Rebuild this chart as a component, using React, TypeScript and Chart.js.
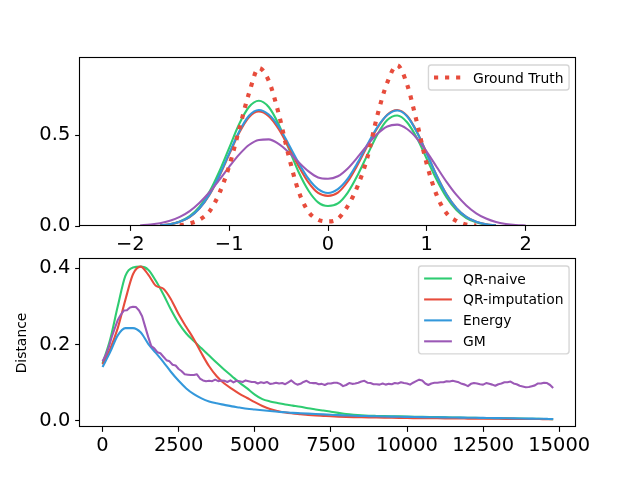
import React, { useEffect, useRef } from "react";
import { Chart, registerables } from "chart.js";

Chart.register(...registerables);

// ---------------- data: top panel (densities) ----------------
const DENSITY_X = [
  -2.0, -1.9, -1.8, -1.7, -1.6, -1.5, -1.4, -1.3, -1.2, -1.1,
  -1.0, -0.9, -0.8, -0.7, -0.6, -0.5, -0.4, -0.3, -0.2, -0.1,
  0.0, 0.1, 0.2, 0.3, 0.4, 0.5, 0.6, 0.7, 0.8, 0.9,
  1.0, 1.1, 1.2, 1.3, 1.4, 1.5, 1.6, 1.7, 1.8, 1.9, 2.0,
];

const GROUND_TRUTH_DENSITY = [
  null, null, null, null, null, 0.003, 0.014, 0.035, 0.08, 0.18,
  0.33, 0.53, 0.73, 0.87, 0.8, 0.62, 0.39, 0.195, 0.08, 0.035,
  0.025, 0.04, 0.11, 0.22, 0.38, 0.61, 0.79, 0.885, 0.78, 0.57,
  0.34, 0.17, 0.07, 0.028, 0.008, 0.002, null, null, null, null, null,
];

const QR_NAIVE_DENSITY = [
  null, null, null, 0.004, 0.01, 0.025, 0.054, 0.106, 0.188, 0.3,
  0.43, 0.56, 0.655, 0.69, 0.655, 0.56, 0.43, 0.3, 0.197, 0.13,
  0.11, 0.124, 0.184, 0.28, 0.393, 0.504, 0.583, 0.608, 0.571, 0.484,
  0.369, 0.254, 0.157, 0.088, 0.044, 0.02, 0.008, 0.003, null, null, null,
];

const QR_IMPUTATION_DENSITY = [
  null, null, null, 0.0035, 0.009, 0.023, 0.049, 0.097, 0.171, 0.274,
  0.394, 0.512, 0.599, 0.63, 0.604, 0.534, 0.436, 0.332, 0.242, 0.182,
  0.166, 0.184, 0.245, 0.337, 0.442, 0.54, 0.613, 0.639, 0.607, 0.519,
  0.4, 0.278, 0.174, 0.098, 0.05, 0.023, 0.0095, 0.0035, null, null, null,
];

const ENERGY_DENSITY = [
  null, null, null, 0.0035, 0.0095, 0.023, 0.05, 0.098, 0.174, 0.278,
  0.4, 0.519, 0.607, 0.639, 0.614, 0.548, 0.452, 0.351, 0.262, 0.203,
  0.182, 0.203, 0.261, 0.349, 0.45, 0.545, 0.611, 0.636, 0.604, 0.516,
  0.398, 0.277, 0.173, 0.098, 0.05, 0.023, 0.0094, 0.0035, null, null, null,
];

const GM_DENSITY = [
  null, 0.004, 0.008, 0.015, 0.0285, 0.05, 0.082, 0.128, 0.186, 0.254,
  0.326, 0.393, 0.446, 0.474, 0.477, 0.452, 0.407, 0.353, 0.302, 0.267,
  0.26, 0.274, 0.317, 0.379, 0.447, 0.508, 0.548, 0.558, 0.534, 0.482,
  0.408, 0.325, 0.243, 0.171, 0.113, 0.07, 0.041, 0.022, 0.0115, 0.0055, 0.0025,
];

const DENSITY_X_TICKS = [-2, -1, 0, 1, 2];
const DENSITY_Y_TICKS = [0, 0.5];

// ---------------- data: bottom panel (distance vs step) ----------------
const SMOOTH_STEPS = [
  0, 250, 500, 750, 1000, 1250, 1500, 1750, 2000, 2250,
  2500, 2750, 3000, 3250, 3500, 3750, 4000, 4250, 4500, 4750,
  5000, 5250, 5500, 5750, 6000, 6250, 6500, 6750, 7000, 7250,
  7500, 7750, 8000, 8250, 8500, 8750, 9000, 9250, 9500, 9750,
  10000, 10250, 10500, 10750, 11000, 11250, 11500, 11750, 12000, 12250,
  12500, 12750, 13000, 13250, 13500, 13750, 14000, 14250, 14500, 14650, 14800,
];

const QR_NAIVE_DISTANCE = [
  0.15, 0.213, 0.3, 0.38, 0.402, 0.404, 0.396, 0.367, 0.331, 0.291,
  0.256, 0.229, 0.209, 0.19, 0.171, 0.152, 0.134, 0.117, 0.1, 0.085,
  0.069, 0.057, 0.051, 0.047, 0.043, 0.04, 0.037, 0.033, 0.03, 0.027,
  0.024, 0.021, 0.018, 0.016, 0.0145, 0.0135, 0.013, 0.0126, 0.0122, 0.0118,
  0.0114, 0.011, 0.0106, 0.0102, 0.0098, 0.0094, 0.009, 0.0086, 0.0082, 0.0078,
  0.0075, 0.0072, 0.0069, 0.0066, 0.0063, 0.006, 0.0057, 0.0054, 0.0051, 0.0048, 0.0046,
];

const QR_IMPUTATION_DISTANCE = [
  0.148, 0.188, 0.243, 0.317, 0.384, 0.404, 0.383, 0.354, 0.346, 0.318,
  0.279, 0.246, 0.214, 0.177, 0.143, 0.117, 0.098, 0.084, 0.071, 0.06,
  0.049, 0.039, 0.031, 0.026, 0.022, 0.0195, 0.0175, 0.0155, 0.014, 0.013,
  0.012, 0.0112, 0.0105, 0.0099, 0.0094, 0.009, 0.0087, 0.0084, 0.0081, 0.0078,
  0.0075, 0.0073, 0.0071, 0.0069, 0.0067, 0.0065, 0.0063, 0.0061, 0.006, 0.0058,
  0.0057, 0.0055, 0.0054, 0.0053, 0.0052, 0.005, 0.0049, 0.0048, 0.0047, 0.0046, 0.0045,
];

const ENERGY_DISTANCE = [
  0.141, 0.18, 0.224, 0.243, 0.243, 0.232, 0.202, 0.178, 0.154, 0.128,
  0.105, 0.085, 0.07, 0.059, 0.051, 0.046, 0.042, 0.038, 0.035, 0.032,
  0.03, 0.028, 0.026, 0.024, 0.0225, 0.021, 0.02, 0.019, 0.018, 0.017,
  0.016, 0.015, 0.0143, 0.0136, 0.013, 0.0125, 0.012, 0.0116, 0.0112, 0.0108,
  0.0105, 0.0102, 0.0099, 0.0096, 0.0094, 0.0091, 0.0089, 0.0086, 0.0084, 0.0081,
  0.0078, 0.0075, 0.0072, 0.0069, 0.0066, 0.0063, 0.006, 0.0057, 0.0054, 0.0051, 0.0048,
];

const GM_STEPS = [
  0, 100, 200, 300, 400, 500, 600, 700, 800, 900,
  1000, 1100, 1200, 1300, 1400, 1500, 1600, 1700, 1800, 1900,
  2000, 2100, 2200, 2300, 2400, 2500, 2600, 2700, 2800, 2900,
  3000, 3100, 3200, 3300, 3400, 3500, 3600, 3700, 3800, 3900,
  4000, 4100, 4200, 4300, 4400, 4500, 4600, 4700, 4800, 4900,
  5000, 5100, 5200, 5300, 5400, 5500, 5600, 5700, 5800, 5900,
  6000, 6100, 6200, 6300, 6400, 6500, 6600, 6700, 6800, 6900,
  7000, 7100, 7200, 7300, 7400, 7500, 7600, 7700, 7800, 7900,
  8000, 8100, 8200, 8300, 8400, 8500, 8600, 8700, 8800, 8900,
  9000, 9100, 9200, 9300, 9400, 9500, 9600, 9700, 9800, 9900,
  10000, 10100, 10200, 10300, 10400, 10500, 10600, 10700, 10800, 10900,
  11000, 11100, 11200, 11300, 11400, 11500, 11600, 11700, 11800, 11900,
  12000, 12100, 12200, 12300, 12400, 12500, 12600, 12700, 12800, 12900,
  13000, 13100, 13200, 13300, 13400, 13500, 13600, 13700, 13800, 13900,
  14000, 14100, 14200, 14300, 14400, 14500, 14600, 14700, 14800,
];

const GM_DISTANCE = [
  0.156, 0.171, 0.192, 0.219, 0.242, 0.264, 0.278, 0.289, 0.29, 0.297,
  0.299, 0.298, 0.289, 0.274, 0.247, 0.22, 0.196, 0.19, 0.18, 0.177,
  0.168, 0.159, 0.156, 0.147, 0.145, 0.136, 0.13, 0.122, 0.121, 0.12,
  0.12, 0.122, 0.111, 0.106, 0.104, 0.105, 0.104, 0.108, 0.104, 0.106,
  0.105, 0.102, 0.106, 0.101, 0.105, 0.104, 0.102, 0.106, 0.104, 0.102,
  0.102, 0.098, 0.101, 0.099, 0.102, 0.097, 0.098, 0.1, 0.098, 0.099,
  0.096, 0.101, 0.106, 0.099, 0.095, 0.097, 0.102, 0.105, 0.1, 0.099,
  0.099, 0.096, 0.097, 0.094, 0.098, 0.098, 0.1, 0.1, 0.097, 0.091,
  0.094, 0.099, 0.097, 0.098, 0.1, 0.103, 0.105, 0.1, 0.099, 0.096,
  0.096, 0.095, 0.098, 0.095, 0.097, 0.096, 0.099, 0.098, 0.101, 0.099,
  0.098, 0.095, 0.1, 0.104, 0.108, 0.106, 0.098, 0.094, 0.098, 0.1,
  0.1, 0.101, 0.101, 0.104, 0.103, 0.105, 0.103, 0.101, 0.097, 0.095,
  0.091, 0.097, 0.099, 0.098, 0.096, 0.095, 0.099, 0.097, 0.095, 0.092,
  0.096, 0.098, 0.101, 0.101, 0.103, 0.098, 0.096, 0.092, 0.09, 0.088,
  0.089, 0.091, 0.093, 0.098, 0.098, 0.1, 0.099, 0.094, 0.086,
];

const STEP_TICKS = [0, 2500, 5000, 7500, 10000, 12500, 15000];
const DISTANCE_TICKS = [0, 0.2, 0.4];

const SERIES_LABELS = ["QR-naive", "QR-imputation", "Energy", "GM"];
const GROUND_TRUTH_LABEL = "Ground Truth";
const Y_LABEL_BOTTOM = "Distance";

// ---------------- styles / layout ----------------
const PT = 100 / 72;
const FONT = "'DejaVu Sans', 'Liberation Sans', sans-serif";
const TICK_FS = 14 * PT;
const SMALL_FS = 10 * PT;
const LINE_W = 1.5 * PT;
const GT_W = 3 * PT;
const TICK_LEN = 3.5 * PT;
const COLORS = {
  green: "#2ecc71",
  red: "#e74c3c",
  blue: "#3498db",
  purple: "#9b59b6",
};
const SERIES_COLORS = [COLORS.green, COLORS.red, COLORS.blue, COLORS.purple];

const FIG_W = 640;
const FIG_H = 480;
const AX_LEFT = 80;
const AX_RIGHT = 576;
const X_AXIS_H = 40;
const TOP_AX = { top: 58, bottom: 226 };
const BOT_AX = { top: 259, bottom: 427 };

type Item = { label: string; color: string; width: number; dash: number[] };

function toPoints(xs: number[], ys: (number | null)[]) {
  const out: { x: number; y: number }[] = [];
  xs.forEach((x, i) => {
    const y = ys[i];
    if (y !== null && y !== undefined) out.push({ x, y });
  });
  return out;
}

const minus = (v: number) => (v < 0 ? "\u2212" + Math.abs(v) : String(v));

const framePlugin = {
  id: "mplFrame",
  afterDatasetsDraw(chart: any) {
    const { ctx, chartArea: a } = chart;
    ctx.save();
    ctx.strokeStyle = "#000";
    ctx.lineWidth = 0.8 * PT;
    const l = Math.round(a.left) - 0.5;
    const t = Math.round(a.top) - 0.5;
    const r = Math.round(a.right) - 0.5;
    const b = Math.round(a.bottom) - 0.5;
    ctx.strokeRect(l, t, r - l, b - t);
    ctx.restore();
  },
};

const legendPlugin = {
  id: "mplLegend",
  afterDraw(chart: any, _args: any, opts: any) {
    const items: Item[] = (opts && opts.items) || [];
    if (!items.length) return;
    const { ctx, chartArea: a } = chart;
    const fs = SMALL_FS;
    const borderPad = 0.4 * fs;
    const handleLen = 2 * fs;
    const handlePad = 0.8 * fs;
    const spacing = 0.5 * fs;
    const axesPad = 0.5 * fs;
    const rowH = 14;
    ctx.save();
    ctx.font = `${fs}px ${FONT}`;
    const textW = Math.max(...items.map((it) => ctx.measureText(it.label).width));
    const w = 2 * borderPad + handleLen + handlePad + textW;
    const h = 2 * borderPad + items.length * rowH + (items.length - 1) * spacing;
    const x0 = a.right - axesPad - w;
    const y0 = a.top + axesPad;
    const rad = 0.2 * fs;
    ctx.beginPath();
    ctx.moveTo(x0 + rad, y0);
    ctx.lineTo(x0 + w - rad, y0);
    ctx.arcTo(x0 + w, y0, x0 + w, y0 + rad, rad);
    ctx.lineTo(x0 + w, y0 + h - rad);
    ctx.arcTo(x0 + w, y0 + h, x0 + w - rad, y0 + h, rad);
    ctx.lineTo(x0 + rad, y0 + h);
    ctx.arcTo(x0, y0 + h, x0, y0 + h - rad, rad);
    ctx.lineTo(x0, y0 + rad);
    ctx.arcTo(x0, y0, x0 + rad, y0, rad);
    ctx.closePath();
    ctx.fillStyle = "rgba(255,255,255,0.8)";
    ctx.fill();
    ctx.strokeStyle = "rgba(204,204,204,0.8)";
    ctx.lineWidth = 1 * PT;
    ctx.stroke();
    items.forEach((it, k) => {
      const cy = y0 + borderPad + rowH / 2 + k * (rowH + spacing);
      ctx.beginPath();
      ctx.strokeStyle = it.color;
      ctx.lineWidth = it.width;
      ctx.lineCap = "butt";
      ctx.setLineDash(it.dash);
      ctx.moveTo(x0 + borderPad, cy);
      ctx.lineTo(x0 + borderPad + handleLen, cy);
      ctx.stroke();
      ctx.setLineDash([]);
      ctx.fillStyle = "#000";
      ctx.textBaseline = "alphabetic";
      ctx.textAlign = "left";
      ctx.fillText(it.label, x0 + borderPad + handleLen + handlePad, cy + 5);
    });
    ctx.restore();
  },
};

function axis(
  min: number,
  max: number,
  ticks: number[],
  fmt: (v: number) => string,
  isX: boolean,
  extra: any = {}
) {
  return {
    type: "linear",
    min,
    max,
    afterBuildTicks: (s: any) => {
      s.ticks = ticks.map((v) => ({ value: v }));
    },
    afterFit: (s: any) => {
      if (isX) s.height = X_AXIS_H;
      else s.width = AX_LEFT;
    },
    grid: {
      display: true,
      drawOnChartArea: false,
      drawTicks: true,
      tickLength: TICK_LEN,
      tickWidth: 0.8 * PT,
      tickColor: "#000",
      color: "#000",
    },
    border: { display: false },
    ticks: {
      autoSkip: false,
      maxRotation: 0,
      minRotation: 0,
      padding: isX ? 2.5 : TICK_LEN,
      color: "#000",
      font: { family: FONT, size: TICK_FS },
      callback: (v: any) => fmt(Number(v)),
    },
    ...extra,
  };
}

function baseOptions(ax: { top: number; bottom: number }, scales: any, items: Item[]) {
  return {
    responsive: false,
    animation: false,
    devicePixelRatio: 1,
    events: [],
    layout: {
      padding: {
        left: 0,
        right: FIG_W - AX_RIGHT,
        top: ax.top,
        bottom: FIG_H - ax.bottom - X_AXIS_H,
      },
    },
    plugins: {
      legend: { display: false },
      tooltip: { enabled: false },
      mplLegend: { items },
    },
    scales,
  };
}

function lineDs(data: any[], color: string, order: number, extra: any = {}) {
  return {
    data,
    borderColor: color,
    backgroundColor: color,
    borderWidth: LINE_W,
    pointRadius: 0,
    fill: false,
    clip: 0,
    order,
    cubicInterpolationMode: "monotone",
    borderJoinStyle: "round",
    borderCapStyle: "butt",
    ...extra,
  };
}

function densityConfig(): any {
  const series = [QR_NAIVE_DENSITY, QR_IMPUTATION_DENSITY, ENERGY_DENSITY, GM_DENSITY];
  const datasets: any[] = series.map((ys, i) =>
    lineDs(toPoints(DENSITY_X, ys), SERIES_COLORS[i], 4 - i)
  );
  datasets.push(
    lineDs(toPoints(DENSITY_X, GROUND_TRUTH_DENSITY), COLORS.red, 0, {
      borderWidth: GT_W,
      borderDash: [GT_W, 1.65 * GT_W],
    })
  );
  return {
    type: "line",
    data: { datasets },
    options: baseOptions(
      TOP_AX,
      {
        x: axis(-2.51, 2.51, DENSITY_X_TICKS, minus, true),
        y: axis(0, 0.925, DENSITY_Y_TICKS, (v) => v.toFixed(1), false),
      },
      [{ label: GROUND_TRUTH_LABEL, color: COLORS.red, width: GT_W, dash: [GT_W, 1.65 * GT_W] }]
    ),
    plugins: [framePlugin, legendPlugin],
  };
}

function distanceConfig(): any {
  const smooth = [QR_NAIVE_DISTANCE, QR_IMPUTATION_DISTANCE, ENERGY_DISTANCE];
  const datasets: any[] = smooth.map((ys, i) =>
    lineDs(toPoints(SMOOTH_STEPS, ys), SERIES_COLORS[i], 4 - i)
  );
  datasets.push(
    lineDs(toPoints(GM_STEPS, GM_DISTANCE), COLORS.purple, 1, {
      cubicInterpolationMode: "default",
      tension: 0,
    })
  );
  const items: Item[] = SERIES_LABELS.map((label, i) => ({
    label,
    color: SERIES_COLORS[i],
    width: LINE_W,
    dash: [],
  }));
  return {
    type: "line",
    data: { datasets },
    options: baseOptions(
      BOT_AX,
      {
        x: axis(-740, 15550, STEP_TICKS, (v) => String(v), true),
        y: axis(-0.016, 0.424, DISTANCE_TICKS, (v) => v.toFixed(1), false, {
          title: {
            display: true,
            text: Y_LABEL_BOTTOM,
            color: "#000",
            font: { family: FONT, size: SMALL_FS },
            padding: { top: 14.5, bottom: 0 },
          },
        }),
      },
      items
    ),
    plugins: [framePlugin, legendPlugin],
  };
}

export default function App() {
  const topRef = useRef<HTMLCanvasElement>(null);
  const botRef = useRef<HTMLCanvasElement>(null);
  useEffect(() => {
    const top = new Chart(topRef.current as HTMLCanvasElement, densityConfig());
    const bot = new Chart(botRef.current as HTMLCanvasElement, distanceConfig());
    return () => {
      top.destroy();
      bot.destroy();
    };
  }, []);
  const cs: React.CSSProperties = { position: "absolute", left: 0, top: 0 };
  return (
    <div
      style={{
        position: "absolute",
        left: 0,
        top: 0,
        width: FIG_W,
        height: FIG_H,
        background: "#fff",
      }}
    >
      <canvas ref={topRef} width={FIG_W} height={FIG_H} style={cs} />
      <canvas ref={botRef} width={FIG_W} height={FIG_H} style={cs} />
    </div>
  );
}
